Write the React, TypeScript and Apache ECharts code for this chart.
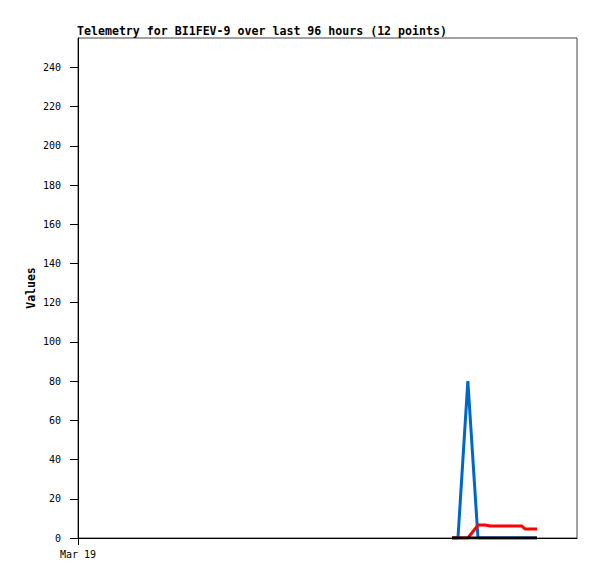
import React, { useEffect, useRef } from "react";
import * as echarts from "echarts";

// hours since window start (window = 96 hours)
const hours = [71.95, 73.1, 75.0, 76.95, 78.3, 79.3, 81.2, 83.1, 85.4, 86.0, 87.1, 88.3];
const blueValues = [0, 0, 80, 0, 0, 0, 0, 0, 0, 0, 0, 0];
const redValues = [0, 0, 0, 6.6, 6.6, 6.1, 6.1, 6.1, 6.1, 4.6, 4.6, 4.6];
const blackValues = [0, 0, 0, 0, 0, 0, 0, 0, 0, 0, 0, 0];
const yTicks = [0, 20, 40, 60, 80, 100, 120, 140, 160, 180, 200, 220, 240];
const xLabel = "Mar 19";
const title = "Telemetry for BI1FEV-9 over last 96 hours (12 points)";

const pairs = (vals: number[]) => hours.map((h, i) => [h, vals[i]]);

export default function App() {
  const ref = useRef<HTMLDivElement>(null);
  useEffect(() => {
    if (!ref.current) return;
    const chart = echarts.init(ref.current, null, { renderer: "svg" });
    const mono = "DejaVu Sans Mono";
    chart.setOption({
      animation: false,
      backgroundColor: "#fff",
      title: {
        text: title,
        left: 77,
        top: 25,
        padding: 0,
        textStyle: { fontFamily: mono, fontSize: 11.6, fontWeight: "bold", color: "#000" },
      },
      grid: {
        left: 78,
        top: 38,
        right: 20,
        bottom: 41,
        show: true,
        borderColor: "#444",
        borderWidth: 1,
        backgroundColor: "transparent",
      },
      xAxis: {
        type: "value",
        min: 0,
        max: 96,
        axisLine: { show: true, lineStyle: { color: "#000", width: 1 } },
        axisTick: { show: true, customValues: [0], length: 7, inside: false, lineStyle: { color: "#000" } },
        axisLabel: {
          customValues: [0],
          formatter: () => xLabel,
          fontFamily: mono,
          fontSize: 10,
          color: "#000",
          margin: 11,
        },
        splitLine: { show: false },
      },
      yAxis: {
        type: "value",
        min: 0,
        max: 255,
        name: "Values",
        nameLocation: "middle",
        nameGap: 41,
        nameMoveOverlap: false,
        nameTextStyle: { fontFamily: mono, fontSize: 11.5, fontWeight: "bold", color: "#000" },
        axisLine: { show: true, lineStyle: { color: "#000", width: 1 } },
        axisTick: { show: true, customValues: yTicks, length: 8, lineStyle: { color: "#000" } },
        axisLabel: {
          customValues: yTicks,
          fontFamily: mono,
          fontSize: 10,
          color: "#000",
          margin: 17,
        },
        splitLine: { show: false },
      },
      series: [
        {
          type: "line",
          data: pairs(blueValues),
          symbol: "none",
          lineStyle: { color: "#0066cc", width: 3 },
          z: 2,
        },
        {
          type: "line",
          data: pairs(redValues),
          symbol: "none",
          lineStyle: { color: "#ff0000", width: 3 },
          z: 3,
        },
        {
          type: "line",
          data: pairs(blackValues),
          symbol: "none",
          lineStyle: { color: "#000000", width: 3 },
          z: 4,
        },
      ],
    });
    return () => chart.dispose();
  }, []);
  return (
    <div
      ref={ref}
      style={{ position: "fixed", left: 0, top: 0, width: 597, height: 579 }}
    />
  );
}
